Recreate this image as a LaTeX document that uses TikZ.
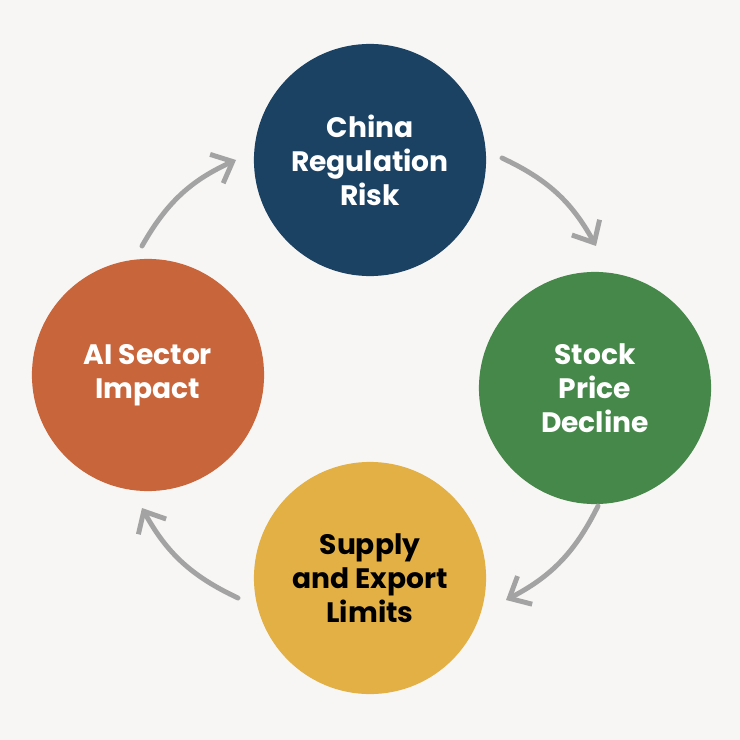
\documentclass[tikz,border=0pt]{standalone}
\usepackage{fontspec}
\setmainfont{Poppins}
\usetikzlibrary{arrows.meta}
\definecolor{bg}{HTML}{F7F6F4}
\definecolor{navy}{HTML}{1B4263}
\definecolor{grn}{HTML}{46884A}
\definecolor{yel}{HTML}{E2B044}
\definecolor{org}{HTML}{C8653A}
\definecolor{arr}{HTML}{A3A3A3}
\begin{document}
\begin{tikzpicture}[x=0.01cm,y=-0.01cm,
  blob/.style={circle,minimum size=2.32cm,inner sep=0pt,align=center,font=\fontsize{8}{9.7}\selectfont\bfseries},
  cyc/.style={draw=arr,line width=1.4pt,line cap=round,-{Straight Barb[length=5pt,width=9pt,line width=1.4pt]}}]
\fill[bg] (0,0) rectangle (740,740);
\node[blob,fill=navy,text=white] (a) at (370,160) {China\\Regulation\\Risk};
\node[blob,fill=grn,text=white] (b) at (595,388) {Stock\\Price\\Decline};
\node[blob,fill=yel,text=black] (c) at (370,578) {Supply\\and Export\\Limits};
\node[blob,fill=org,text=white] (d) at (148,375) {AI Sector\\Impact};
\coordinate (a1) at (142,246); \coordinate (a2) at (236,160);
\coordinate (b1) at (502,158); \coordinate (b2) at (596,246);
\coordinate (c1) at (598,506); \coordinate (c2) at (506,600);
\coordinate (d1) at (238,598); \coordinate (d2) at (142,508);
\draw[cyc] (a1) to[bend left=18] (a2);
\draw[cyc] (b1) to[bend left=18] (b2);
\draw[cyc] (c1) to[bend left=18] (c2);
\draw[cyc] (d1) to[bend left=18] (d2);
\end{tikzpicture}
\end{document}
